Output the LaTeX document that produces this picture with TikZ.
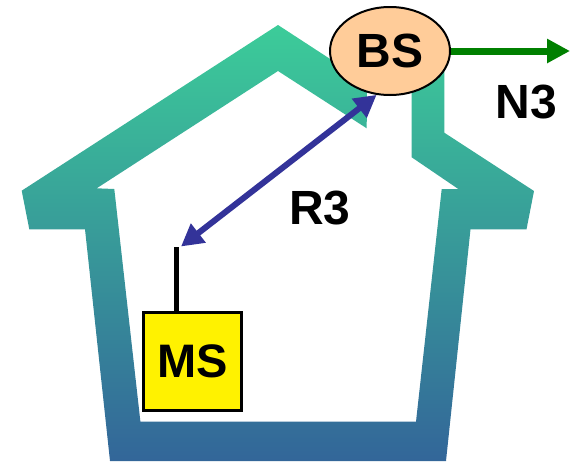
\documentclass[tikz,border=0pt]{standalone}
\usepackage{fontspec}
\setmainfont{Liberation Sans}
\usetikzlibrary{shapes.geometric,arrows.meta}
\definecolor{housetop}{RGB}{60,204,153}
\definecolor{housebot}{RGB}{51,102,153}
\definecolor{bsfill}{RGB}{255,204,153}
\definecolor{linkblue}{RGB}{51,51,153}
\definecolor{netgreen}{RGB}{0,128,0}
\tikzset{
  lbl/.style={font=\fontsize{48}{48}\selectfont\bfseries, inner sep=0pt},
  bsnode/.style={ellipse, draw=black, line width=2pt, fill=bsfill, minimum width=120pt, minimum height=88pt, inner sep=0pt, font=\fontsize{48}{48}\selectfont\bfseries},
  msnode/.style={rectangle, draw=black, line width=2.5pt, fill=yellow, minimum width=98pt, minimum height=98pt, inner sep=0pt, font=\fontsize{47}{47}\selectfont\bfseries},
  antline/.style={draw=black, line width=5pt},
  radiolink/.style={draw=linkblue, line width=6pt, {Triangle[length=22pt,width=23pt]}-{Triangle[length=22pt,width=23pt]}},
  netlink/.style={draw=netgreen, line width=7pt, -{Triangle[length=23pt,width=23pt]}},
}
\begin{document}
\begin{tikzpicture}[x=1pt,y=-1pt]
\useasboundingbox (0,0) rectangle (575,461);
% house band
\shade[top color=housetop, bottom color=housebot]
  (367,83) -- (278,25) -- (21.7,190.7) -- (29.3,229.3) -- (85,229.3) -- (110,461)
  -- (446,461) -- (470.5,229.3) -- (526.5,229.3) -- (534,191) -- (444.3,132.7)
  -- (444.3,62) -- (411.7,62) -- (411.7,157.3) -- (458.3,189) -- (441.7,189)
  -- (416,421.7) -- (140.4,421.7) -- (114.3,189) -- (96.7,188.3) -- (278,71)
  -- (366.7,128.3) -- cycle;
% nodes
\node[bsnode] (bs) at (390,51) {BS};
\node[msnode] (ms) at (192.5,361.5) {MS};
\coordinate (anttop) at (176.5,247);
\coordinate (r3end) at (181,246.5);
\coordinate (n3end) at (570,51);
% antenna
\draw[antline] (anttop |- ms.north) -- (anttop);
% links
\draw[radiolink] (r3end) -- (bs.253);
\draw[netlink] (bs.east) -- (n3end);
% labels
\node[lbl] (r3) at (320,208.5) {R3};
\node[lbl] (n3) at (526.5,102) {N3};
\end{tikzpicture}
\end{document}
